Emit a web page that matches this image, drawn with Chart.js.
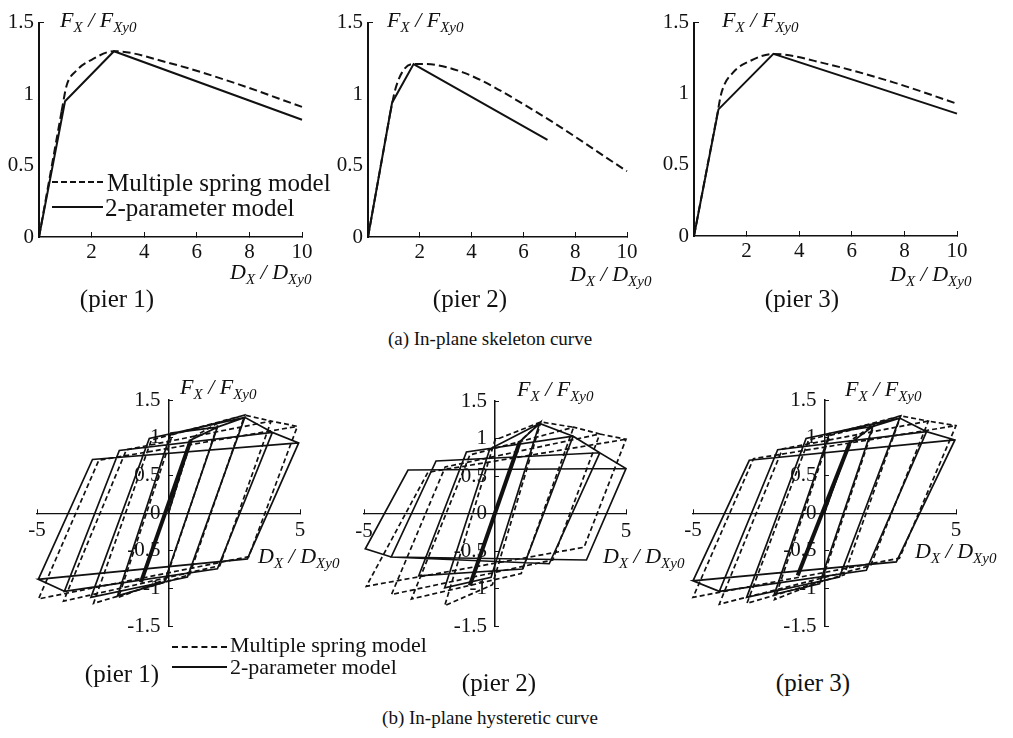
<!DOCTYPE html>
<html>
<head>
<meta charset="utf-8">
<script src="https://cdn.jsdelivr.net/npm/chart.js@4/dist/chart.umd.min.js"></script>
<style>
    body { margin: 0; background: #fff; }
    #page { position: relative; width: 1013px; height: 738px; overflow: hidden; background: #fff; }
    canvas { position: absolute; }
    .t { position: absolute; font-family: 'Liberation Serif', 'Times New Roman', serif; color: #111; white-space: nowrap; line-height: 1; }
    .ax { font-size: 22px; font-style: italic; }
    .ax sub { font-size: 15px; vertical-align: -5px; }
    .cap { font-size: 25px; transform: translateX(-50%); }
    .sub-cap { font-size: 19px; transform: translateX(-50%); }
    .leg { font-size: 25px; }
    .leg.small { font-size: 22px; }
    .dash { position: absolute; border-top: 2px dashed #111; height: 0; }
    .solid { position: absolute; border-top: 2px solid #111; height: 0; }
</style>
</head>
<body>
<div id="page">
    <canvas id="sk1"></canvas>
    <canvas id="sk2"></canvas>
    <canvas id="sk3"></canvas>
    <canvas id="hy1"></canvas>
    <canvas id="hy2"></canvas>
    <canvas id="hy3"></canvas>

    <!-- axis titles, top row -->
    <div class="t ax" style="left:60px;top:9px"><i>F</i><sub>X</sub> / <i>F</i><sub>Xy0</sub></div>
    <div class="t ax" style="left:387px;top:9px"><i>F</i><sub>X</sub> / <i>F</i><sub>Xy0</sub></div>
    <div class="t ax" style="left:722px;top:9px"><i>F</i><sub>X</sub> / <i>F</i><sub>Xy0</sub></div>
    <div class="t ax" style="left:230px;top:261px"><i>D</i><sub>X</sub> / <i>D</i><sub>Xy0</sub></div>
    <div class="t ax" style="left:570px;top:263px"><i>D</i><sub>X</sub> / <i>D</i><sub>Xy0</sub></div>
    <div class="t ax" style="left:890px;top:263px"><i>D</i><sub>X</sub> / <i>D</i><sub>Xy0</sub></div>

    <!-- legend, top row -->
    <div class="dash" style="left:52px;top:181px;width:51px"></div>
    <div class="t leg" style="left:107px;top:170px">Multiple spring model</div>
    <div class="solid" style="left:52px;top:206px;width:51px"></div>
    <div class="t leg" style="left:105px;top:195px">2-parameter model</div>

    <div class="t cap" style="left:117px;top:286px">(pier 1)</div>
    <div class="t cap" style="left:470px;top:286px">(pier 2)</div>
    <div class="t cap" style="left:802px;top:286px">(pier 3)</div>
    <div class="t sub-cap" style="left:490px;top:329px">(a) In-plane skeleton curve</div>

    <!-- axis titles, bottom row -->
    <div class="t ax" style="left:180px;top:376px"><i>F</i><sub>X</sub> / <i>F</i><sub>Xy0</sub></div>
    <div class="t ax" style="left:517px;top:378px"><i>F</i><sub>X</sub> / <i>F</i><sub>Xy0</sub></div>
    <div class="t ax" style="left:845px;top:378px"><i>F</i><sub>X</sub> / <i>F</i><sub>Xy0</sub></div>
    <div class="t ax" style="left:258px;top:545px"><i>D</i><sub>X</sub> / <i>D</i><sub>Xy0</sub></div>
    <div class="t ax" style="left:603px;top:545px"><i>D</i><sub>X</sub> / <i>D</i><sub>Xy0</sub></div>
    <div class="t ax" style="left:915px;top:540px"><i>D</i><sub>X</sub> / <i>D</i><sub>Xy0</sub></div>

    <!-- legend, bottom row -->
    <div class="dash" style="left:172px;top:646px;width:55px"></div>
    <div class="t leg small" style="left:230px;top:634px">Multiple spring model</div>
    <div class="solid" style="left:172px;top:666px;width:55px"></div>
    <div class="t leg small" style="left:230px;top:656px">2-parameter model</div>

    <div class="t cap" style="left:122px;top:661px">(pier 1)</div>
    <div class="t cap" style="left:499px;top:670px">(pier 2)</div>
    <div class="t cap" style="left:813px;top:670px">(pier 3)</div>
    <div class="t sub-cap" style="left:490px;top:708px">(b) In-plane hysteretic curve</div>
</div>

<script>
// (a) skeleton curves, D/Dy0 vs F/Fy0
const skel1SpringX = [0, 0.86, 1.05, 1.4, 2.0, 2.85, 4.9, 7.4, 10];
const skel1SpringY = [0, 0.88, 1.06, 1.16, 1.24, 1.30, 1.22, 1.08, 0.91];
const skel1ParamX = [0, 0.99, 2.85, 10];
const skel1ParamY = [0, 0.95, 1.30, 0.82];

const skel2SpringX = [0, 0.85, 1.05, 1.31, 1.70, 2.15, 3.69, 6.27, 10];
const skel2SpringY = [0, 0.86, 1.03, 1.15, 1.21, 1.21, 1.15, 0.90, 0.46];
const skel2ParamX = [0, 0.93, 1.76, 6.93];
const skel2ParamY = [0, 0.94, 1.21, 0.68];

const skel3SpringX = [0, 0.85, 1.05, 1.49, 2.13, 3.02, 5.04, 7.58, 10];
const skel3SpringY = [0, 0.82, 1.01, 1.15, 1.23, 1.28, 1.21, 1.08, 0.93];
const skel3ParamX = [0, 0.93, 3.02, 10];
const skel3ParamY = [0, 0.89, 1.28, 0.86];

// (b) hysteretic loops, [D/Dy0, F/Fy0] in loading order
const hyst1Core = [[-1.05, -0.92], [0.85, 0.97]];
const hyst1Param = [[0, 0], [0.85, 0.97], [1.86, 1.14], [-0.16, -0.92], [-1.94, -1.10], [0.09, 1.06], [1.86, 1.14],
    [2.9, 1.27], [0.72, -0.85], [-2.95, -1.12], [-0.73, 0.99], [2.9, 1.27],
    [3.95, 1.07], [1.86, -0.74], [-3.96, -1.04], [-1.87, 0.83], [3.95, 1.07],
    [4.95, 0.93], [3.0, -0.61], [-4.95, -0.88], [-3.96, -1.04], [-4.95, -0.88], [-2.89, 0.71], [4.95, 0.93]];
const hyst1Spring = [[0, 0], [0.9, 1.0], [1.9, 1.2], [-0.1, -0.88], [-1.9, -1.12], [0.15, 1.04], [1.9, 1.2],
    [2.9, 1.3], [0.8, -0.82], [-2.85, -1.2], [-0.65, 0.97], [2.9, 1.3],
    [3.9, 1.22], [1.95, -0.7], [-3.99, -1.17], [-1.6, 0.84], [3.9, 1.22],
    [4.9, 1.15], [3.05, -0.58], [-4.94, -1.14], [-2.65, 0.7], [4.9, 1.15]];

const hyst2Core = [[-0.96, -0.96], [0.95, 0.96]];
const hyst2Param = [[0, 0], [0.95, 0.96], [1.7, 1.2], [-0.15, -0.85], [-1.92, -0.99], [-0.2, 0.86], [1.7, 1.2],
    [2.98, 1.03], [1.05, -0.74], [-2.91, -0.83], [-1.09, 0.82], [2.98, 1.03],
    [4.0, 0.81], [2.07, -0.67], [-3.96, -0.58], [-2.25, 0.7], [4.0, 0.81],
    [5.0, 0.6], [3.49, -0.62], [-3.96, -0.58], [-4.95, -0.47], [-3.32, 0.58], [5.0, 0.6]];
const hyst2Spring = [[0, 0], [0.95, 0.96], [1.75, 1.22], [-0.1, -0.95], [-1.92, -1.23], [0.0, 0.98], [1.75, 1.22],
    [3.0, 1.15], [1.0, -0.8], [-3.19, -1.14], [-0.96, 0.78], [3.0, 1.15],
    [4.0, 1.06], [2.2, -0.62], [-3.95, -1.08], [-1.9, 0.62], [4.0, 1.06],
    [5.0, 0.99], [3.4, -0.45], [-4.91, -0.97], [-2.56, 0.55], [5.0, 0.99]];

const hyst3Core = [[-1.02, -0.83], [0.95, 0.92]];
const hyst3Param = [[0, 0], [0.95, 0.92], [1.84, 1.15], [-0.19, -0.94], [-1.91, -1.08], [0.19, 1.06], [1.84, 1.15],
    [2.86, 1.26], [0.57, -0.85], [-2.96, -1.12], [-0.70, 0.99], [2.86, 1.26],
    [3.88, 1.08], [1.59, -0.76], [-4.0, -1.04], [-1.78, 0.84], [3.88, 1.08],
    [4.96, 0.97], [2.73, -0.65], [-5.0, -0.9], [-4.0, -1.04], [-5.0, -0.9], [-2.86, 0.70], [4.96, 0.97]];
const hyst3Spring = [[0, 0], [0.95, 0.95], [1.9, 1.18], [-0.1, -0.9], [-1.9, -1.15], [0.2, 1.03], [1.9, 1.18],
    [2.9, 1.29], [0.75, -0.82], [-2.95, -1.2], [-0.6, 0.97], [2.9, 1.29],
    [3.95, 1.22], [1.75, -0.7], [-4.0, -1.21], [-1.6, 0.85], [3.95, 1.22],
    [5.0, 1.16], [2.85, -0.6], [-5.0, -1.12], [-2.7, 0.72], [5.0, 1.16]];

const INK = '#111';
const NONE = 'rgba(0,0,0,0)';
Chart.defaults.font.family = "'Liberation Serif', 'Times New Roman', serif";
Chart.defaults.font.size = 21;
Chart.defaults.color = INK;

function xy(xs, ys) {
    return xs.map((x, i) => ({ x: x, y: ys[i] }));
}
function pairs(list) {
    return list.map(p => ({ x: p[0], y: p[1] }));
}

function placeCanvas(id, box) {
    const el = document.getElementById(id);
    el.style.left = box[0] + 'px';
    el.style.top = box[1] + 'px';
    el.width = box[2];
    el.height = box[3];
    return el;
}

const baseOpts = {
    responsive: false,
    animation: false,
    events: [],
    plugins: { legend: { display: false }, tooltip: { enabled: false } }
};

// box = canvas [left, top, width, height]; area = wanted plot area in page pixels
function skeletonChart(id, box, area, spring, param) {
    const el = placeCanvas(id, box);
    const dashed = { showLine: true, borderColor: INK, borderWidth: 2, borderDash: [8, 4], pointRadius: 0, clip: false };
    new Chart(el, {
        type: 'scatter',
        data: {
            datasets: [
                // straight elastic branch, then the rounded post-yield branch
                Object.assign({ data: spring.slice(0, 2) }, dashed),
                Object.assign({ data: spring.slice(1), cubicInterpolationMode: 'monotone' }, dashed),
                { data: param, showLine: true, borderColor: INK, borderWidth: 2, pointRadius: 0, clip: false }
            ]
        },
        options: Object.assign({}, baseOpts, {
            layout: { padding: { left: 0, top: area.top - box[1], right: box[0] + box[2] - area.right, bottom: 0 } },
            scales: {
                x: {
                    type: 'linear', position: 'bottom', min: 0, max: 10,
                    afterFit: s => { s.height = box[1] + box[3] - area.bottom; },
                    ticks: { stepSize: 2, padding: 8, callback: v => (v === 0 ? '' : String(v)) },
                    grid: { drawOnChartArea: false, tickLength: -5, tickColor: INK },
                    border: { color: INK, width: 1.5 }
                },
                y: {
                    type: 'linear', position: 'left', min: 0, max: 1.5,
                    afterFit: s => { s.width = area.left - box[0]; },
                    ticks: { stepSize: 0.5, padding: 10, callback: v => String(v) },
                    grid: { drawOnChartArea: false, tickLength: -5, tickColor: c => (c.tick && c.tick.value === 1.5 ? INK : NONE) },
                    border: { color: INK, width: 2 }
                }
            }
        })
    });
}

function hystereticChart(id, box, area, core, spring, param) {
    const el = placeCanvas(id, box);
    new Chart(el, {
        type: 'scatter',
        data: {
            datasets: [
                { data: spring, showLine: true, borderColor: INK, borderWidth: 1.7, borderDash: [5, 3], pointRadius: 0, clip: false },
                { data: param, showLine: true, borderColor: INK, borderWidth: 1.7, pointRadius: 0, clip: false },
                { data: core, showLine: true, borderColor: INK, borderWidth: 4, pointRadius: 0, clip: false }
            ]
        },
        options: Object.assign({}, baseOpts, {
            layout: { padding: { left: area.left - box[0], top: area.top - box[1], right: box[0] + box[2] - area.right, bottom: box[1] + box[3] - area.bottom } },
            scales: {
                x: {
                    type: 'linear', position: 'center', min: -5, max: 5,
                    ticks: { stepSize: 5, padding: 10, callback: v => (v === 0 ? '' : String(v)) },
                    grid: { drawOnChartArea: false, tickLength: -5, tickColor: c => (c.tick && c.tick.value === 0 ? NONE : INK) },
                    border: { color: INK, width: 1.3 }
                },
                y: {
                    type: 'linear', position: 'center', min: -1.5, max: 1.5,
                    ticks: { stepSize: 0.5, padding: 13, callback: v => String(v) },
                    grid: { drawOnChartArea: false, tickLength: -5, tickColor: c => (c.tick && c.tick.value === 0 ? NONE : INK) },
                    border: { color: INK, width: 1.5 }
                }
            }
        })
    });
}

skeletonChart('sk1', [0, 0, 330, 290], { left: 39, right: 302, top: 15, bottom: 237 },
    xy(skel1SpringX, skel1SpringY), xy(skel1ParamX, skel1ParamY));
skeletonChart('sk2', [330, 0, 330, 290], { left: 368, right: 627, top: 15, bottom: 237 },
    xy(skel2SpringX, skel2SpringY), xy(skel2ParamX, skel2ParamY));
skeletonChart('sk3', [660, 0, 353, 290], { left: 694, right: 957, top: 15, bottom: 236 },
    xy(skel3SpringX, skel3SpringY), xy(skel3ParamX, skel3ParamY));

hystereticChart('hy1', [0, 370, 330, 290], { left: 37, right: 300, top: 400, bottom: 626 },
    pairs(hyst1Core), pairs(hyst1Spring), pairs(hyst1Param));
hystereticChart('hy2', [330, 370, 330, 290], { left: 364, right: 626, top: 401, bottom: 626 },
    pairs(hyst2Core), pairs(hyst2Spring), pairs(hyst2Param));
hystereticChart('hy3', [660, 370, 353, 290], { left: 693, right: 956, top: 400, bottom: 626 },
    pairs(hyst3Core), pairs(hyst3Spring), pairs(hyst3Param));
</script>
</body>
</html>
